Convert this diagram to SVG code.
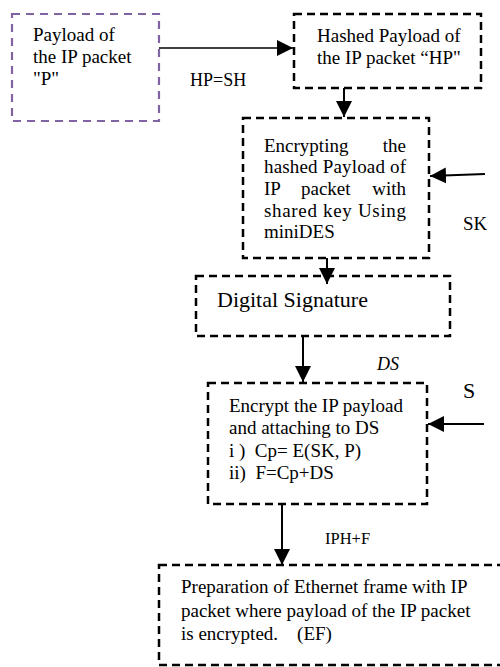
<svg xmlns="http://www.w3.org/2000/svg" width="500" height="667" viewBox="0 0 500 667">
<defs>
<style>
.box{fill:none;stroke:#000;stroke-width:2.5;stroke-dasharray:8 5}
.pbox{fill:none;stroke:#8064a2;stroke-width:2.2;stroke-dasharray:8 6}
.t{font-family:"Liberation Serif","Times New Roman",serif;font-size:19px;fill:#000}
.c{stroke:#000;fill:none}
</style>
<marker id="ahb" viewBox="0 0 10 10" refX="10" refY="5" markerWidth="16" markerHeight="16" markerUnits="userSpaceOnUse" orient="auto">
<path d="M0,0 L10,5 L0,10 z" fill="#000"/>
</marker>
</defs>
<rect width="500" height="667" fill="#fff"/>
<g id="connectors">
<line class="c" x1="159" y1="48" x2="293" y2="48" stroke-width="1.3" marker-end="url(#ahb)"/>
<line class="c" x1="344" y1="88" x2="344" y2="117" stroke-width="2" marker-end="url(#ahb)"/>
<line class="c" x1="485" y1="174" x2="430" y2="176" stroke-width="2" marker-end="url(#ahb)"/>
<line class="c" x1="327" y1="258" x2="327" y2="284" stroke-width="2" marker-end="url(#ahb)"/>
<line class="c" x1="303" y1="337" x2="303" y2="382" stroke-width="2" marker-end="url(#ahb)"/>
<line class="c" x1="484" y1="424" x2="428" y2="424" stroke-width="2" marker-end="url(#ahb)"/>
<line class="c" x1="282" y1="505" x2="282" y2="565" stroke-width="2" marker-end="url(#ahb)"/>
<text class="t" x="190" y="86" style="font-size:18px">HP=SH</text>
<text class="t" x="463" y="230">SK</text>
<text class="t" x="377" y="370" style="font-size:18px;font-style:italic">DS</text>
<text class="t" x="463" y="398" style="font-size:22px">S</text>
<text class="t" x="325" y="544" style="font-size:16.5px">IPH+F</text>
</g>
<g id="payload">
<rect class="pbox" x="12" y="14" width="147" height="107"/>
<text class="t" x="33" y="41">Payload of</text>
<text class="t" x="33" y="63">the IP packet</text>
<text class="t" x="33" y="85">"P"</text>
</g>
<g id="hashed">
<rect class="box" x="294" y="14" width="187" height="74"/>
<text class="t" x="317" y="42">Hashed Payload of</text>
<text class="t" x="317" y="64">the IP packet “HP"</text>
</g>
<g id="encrypting">
<rect class="box" x="243" y="118" width="186" height="140"/>
<text class="t" x="264" y="152">Encrypting</text>
<text class="t" x="406" y="152" text-anchor="end">the</text>
<text class="t" x="264" y="173" textLength="142" lengthAdjust="spacing">hashed Payload of</text>
<text class="t" x="264" y="195">IP</text>
<text class="t" x="301" y="195">packet</text>
<text class="t" x="406" y="195" text-anchor="end">with</text>
<text class="t" x="264" y="217" textLength="142" lengthAdjust="spacing">shared key Using</text>
<text class="t" x="264" y="238">miniDES</text>
</g>
<g id="signature">
<rect class="box" x="196" y="276" width="254" height="60"/>
<text class="t" x="217" y="307" style="font-size:22px">Digital Signature</text>
</g>
<g id="encrypt">
<rect class="box" x="208" y="383" width="219" height="121"/>
<text class="t" x="229" y="412">Encrypt the IP payload</text>
<text class="t" x="229" y="434">and attaching to DS</text>
<text class="t" x="229" y="457" xml:space="preserve">i )  Cp= E(SK, P)</text>
<text class="t" x="229" y="479" xml:space="preserve">ii)  F=Cp+DS</text>
</g>
<g id="ethernet">
<rect class="box" x="159" y="565" width="370" height="100"/>
<text class="t" x="181" y="593">Preparation of Ethernet frame with IP</text>
<text class="t" x="181" y="617">packet where payload of the IP packet</text>
<text class="t" x="181" y="640" xml:space="preserve">is encrypted.    (EF)</text>
</g>
</svg>
